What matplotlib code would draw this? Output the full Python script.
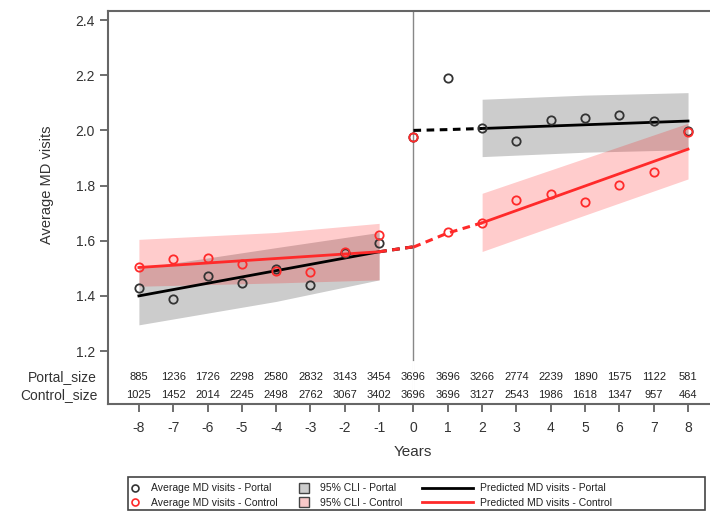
import numpy as np
import matplotlib
matplotlib.use('Agg')
import matplotlib.pyplot as plt
from matplotlib.lines import Line2D
from matplotlib.patches import Rectangle

plt.rcParams['font.family'] = ['Liberation Sans', 'DejaVu Sans']
plt.rcParams['axes.unicode_minus'] = False

years = list(range(-8, 9))
portal_avg = [1.428, 1.388, 1.472, 1.445, 1.497, 1.440, 1.555, 1.591, 1.977,
              2.189, 2.007, 1.963, 2.038, 2.046, 2.055, 2.034, 1.998]
control_avg = [1.503, 1.534, 1.539, 1.516, 1.490, 1.485, 1.560, 1.620, 1.975,
               1.633, 1.663, 1.748, 1.770, 1.739, 1.802, 1.850, 1.995]
portal_size = [885, 1236, 1726, 2298, 2580, 2832, 3143, 3454, 3696, 3696,
               3266, 2774, 2239, 1890, 1575, 1122, 581]
control_size = [1025, 1452, 2014, 2245, 2498, 2762, 3067, 3402, 3696, 3696,
                3127, 2543, 1986, 1618, 1347, 957, 464]

# predicted lines (pre / post period)
pre_x = [-8, -1]
portal_pred_pre = [1.40, 1.56]
control_pred_pre = [1.503, 1.56]
post_x = [2, 8]
portal_pred_post = [2.007, 2.034]
control_pred_post = [1.665, 1.932]

# dashed connectors
gap_pre_x = [-1, 0]
portal_gap_pre = [1.56, 1.578]
control_gap_pre = [1.56, 1.578]
gap_post_x = [0, 1, 2]
portal_gap_post = [2.0, 2.003, 2.007]
control_gap_post = [1.577, 1.628, 1.665]

# confidence bands
band_pre_x = [-8, -4, -1]
portal_lo_pre = [1.295, 1.38, 1.458]
portal_hi_pre = [1.50, 1.575, 1.63]
control_lo_pre = [1.435, 1.447, 1.458]
control_hi_pre = [1.605, 1.630, 1.663]
band_post_x = [2, 5, 8]
portal_lo_post = [1.905, 1.921, 1.930]
portal_hi_post = [2.113, 2.128, 2.137]
control_lo_post = [1.561, 1.693, 1.824]
control_hi_post = [1.772, 1.899, 2.026]

blk = '#333333'
red = '#ff2a2a'

fig = plt.figure(figsize=(7.1, 5.14), dpi=100)
ax = fig.add_axes([108/710, 110/514, 602/710, 393/514])

ax.fill_between(band_pre_x, portal_lo_pre, portal_hi_pre, color='#808080', alpha=0.4, lw=0)
ax.fill_between(band_post_x, portal_lo_post, portal_hi_post, color='#808080', alpha=0.4, lw=0)
ax.fill_between(band_pre_x, control_lo_pre, control_hi_pre, color='#ff0000', alpha=0.2, lw=0)
ax.fill_between(band_post_x, control_lo_post, control_hi_post, color='#ff0000', alpha=0.2, lw=0)

ax.axvline(0, ymin=0, ymax=1, color='#888888', lw=1, zorder=1)
ax.plot([0, 0], [1.008, 1.16], color='white', lw=2, zorder=1.5)

ax.plot(pre_x, portal_pred_pre, color='black', lw=2)
ax.plot(post_x, portal_pred_post, color='black', lw=2)
ax.plot(gap_pre_x, portal_gap_pre, color='black', lw=2.2, ls=(0, (2.5, 1.8)))
ax.plot(gap_post_x, portal_gap_post, color='black', lw=2.2, ls=(0, (2.5, 1.8)))
ax.plot(pre_x, control_pred_pre, color=red, lw=2)
ax.plot(post_x, control_pred_post, color=red, lw=2)
ax.plot(gap_pre_x, control_gap_pre, color=red, lw=2.2, ls=(0, (2.5, 1.8)))
ax.plot(gap_post_x, control_gap_post, color=red, lw=2.2, ls=(0, (2.5, 1.8)))

ax.plot(years, portal_avg, 'o', ms=6, mfc='none', mec=blk, mew=1.3, zorder=5)
ax.plot(years, control_avg, 'o', ms=6, mfc='none', mec=red, mew=1.3, zorder=5)

ax.set_xlim(-8.90, 8.64)
ax.set_ylim(1.008, 2.433)
ax.set_xticks(years)
ax.set_yticks([1.2, 1.4, 1.6, 1.8, 2.0, 2.2, 2.4])
ax.set_yticklabels(['1.2', '1.4', '1.6', '1.8', '2.0', '2.2', '2.4'])
ax.tick_params(axis='both', labelsize=10, color='#555555', labelcolor='#333333',
               length=6, width=1.2)
ax.tick_params(axis='x', pad=6)
for s in ['left', 'top', 'bottom']:
    ax.spines[s].set_color('#666666')
    ax.spines[s].set_linewidth(1.5)
ax.spines['right'].set_visible(False)

ax.set_xlabel('Years', fontsize=11, color='#333333')
ax.xaxis.set_label_coords(0.507, -0.105)
ax.set_ylabel('Average MD visits', fontsize=10.5, color='#333333')
ax.yaxis.set_label_coords(-0.09, 0.557)

tr = ax.get_yaxis_transform()
ax.text(-0.018, 1.106, 'Portal_size', transform=tr, ha='right', va='center',
        fontsize=10, color='#333333')
ax.text(-0.018, 1.041, 'Control_size', transform=tr, ha='right', va='center',
        fontsize=10, color='#333333')
for x, p, c in zip(years, portal_size, control_size):
    ax.text(x, 1.106, str(p), ha='center', va='center', fontsize=8, color='#222222')
    ax.text(x, 1.041, str(c), ha='center', va='center', fontsize=8, color='#222222')

# legend: three column groups inside a single frame
fig.patches.append(Rectangle((128/710, 4/514), 577/710, 33/514, transform=fig.transFigure,
                             fill=False, edgecolor='#444444', lw=1.2))
leg_y = 0.036
h1 = [Line2D([], [], marker='o', ls='none', ms=5, mfc='none', mec=blk, mew=1.2),
      Line2D([], [], marker='o', ls='none', ms=5, mfc='none', mec=red, mew=1.2)]
h2 = [Line2D([], [], marker='s', ls='none', ms=7.5, mfc='#cccccc', mec='#444444', mew=1),
      Line2D([], [], marker='s', ls='none', ms=7.5, mfc='#f8c8c8', mec='#444444', mew=1)]
h3 = [Line2D([], [], color='black', lw=2), Line2D([], [], color=red, lw=2)]
common = dict(loc='center left', frameon=False, fontsize=7.5, borderpad=0,
              borderaxespad=0, labelspacing=0.45, labelcolor='#222222')
l1 = fig.legend(h1, ['Average MD visits - Portal', 'Average MD visits - Control'],
                bbox_to_anchor=(131/710, leg_y), handlelength=0.8, handletextpad=1.1, **common)
l2 = fig.legend(h2, ['95% CLI - Portal', '95% CLI - Control'],
                bbox_to_anchor=(299/710, leg_y), handlelength=1.0, handletextpad=1.0, **common)
l3 = fig.legend(h3, ['Predicted MD visits - Portal', 'Predicted MD visits - Control'],
                bbox_to_anchor=(422/710, leg_y), handlelength=4.9, handletextpad=0.7, **common)

fig.savefig('out.png', dpi=100)
